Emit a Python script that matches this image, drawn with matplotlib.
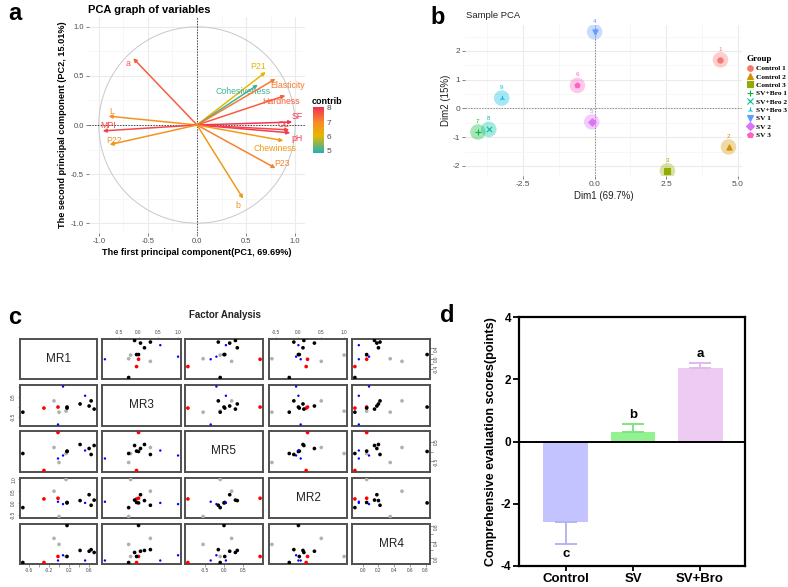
import matplotlib
matplotlib.use('Agg')
import matplotlib.pyplot as plt
import numpy as np
from matplotlib.colors import LinearSegmentedColormap, Normalize
from matplotlib.lines import Line2D

plt.rcParams['font.family'] = ['Liberation Sans', 'DejaVu Sans']
plt.rcParams['axes.unicode_minus'] = False

W, H = 788, 587
fig = plt.figure(figsize=(W / 100, H / 100), dpi=100)


def box(x0, y0, x1, y1):
    return [x0 / W, 1 - y1 / H, (x1 - x0) / W, (y1 - y0) / H]


# ---------------- data: panel a (variables PCA) ----------------
var_names = ['a', 'L', 'MPI', 'P22', 'P21', 'Cohesiveness', 'Elasticity', 'Hardness',
             'SF', 'OL', 'pH', 'Chewiness', 'P23', 'b']
pc1 = [-0.65, -0.90, -0.96, -0.89, 0.70, 0.62, 0.80, 0.90, 0.97, 0.94, 0.95, 0.88, 0.80, 0.47]
pc2 = [0.68, 0.09, -0.06, -0.20, 0.54, 0.41, 0.47, 0.30, 0.03, -0.05, -0.08, -0.16, -0.44, -0.75]
contrib = [7.5, 6.8, 7.8, 6.8, 6.0, 5.0, 7.2, 7.5, 8.0, 7.8, 7.9, 6.6, 7.1, 6.7]
axis_ticks_a = [-1.0, -0.5, 0.0, 0.5, 1.0]
contrib_ticks = [5, 6, 7, 8]

# ---------------- data: panel b (sample PCA) ----------------
groups = ['Control 1', 'Control 2', 'Control 3', 'SV+Bro 1', 'SV+Bro 2', 'SV+Bro 3',
          'SV 1', 'SV 2', 'SV 3']
point_ids = ['1', '2', '3', '7', '8', '9', '4', '5', '6']
dim1 = [4.39, 4.67, 2.54, -4.07, -3.69, -3.24, 0.00, -0.10, -0.60]
dim2 = [1.69, -1.34, -2.17, -0.82, -0.73, 0.36, 2.66, -0.47, 0.80]
group_colors = ['#F8766D', '#D39200', '#93AA00', '#00BA38', '#00C19F', '#00B9E3',
                '#619CFF', '#DB72FB', '#FF61C3']
group_markers = ['o', '^', 's', '+', 'x', '2', 'v', 'D', 'p']
xticks_b = [-2.5, 0.0, 2.5, 5.0]
yticks_b = [-2, -1, 0, 1, 2]

# ---------------- data: panel c (factor loadings) ----------------
factor_names = ['MR1', 'MR3', 'MR5', 'MR2', 'MR4']
mr1 = [-0.30, -0.02, -0.10, 0.00, 0.14, 0.16, 0.16, 0.08, -0.02, 0.52, 0.42, 0.64, 0.60, 0.70, -0.72]
mr3 = [-0.05, 0.00, 0.30, -0.25, -0.20, 0.00, -0.05, 1.00, -0.85, 0.55, 0.15, 0.30, 0.05, -0.10, -0.25]
mr5 = [-0.95, 0.95, 0.20, -0.55, -0.10, 0.00, 0.02, -0.20, -0.35, 0.05, 0.35, -0.15, 0.15, 0.30, -0.10]
mr2 = [0.17, 0.20, 0.50, -0.58, 1.00, 0.00, 0.02, -0.05, 0.05, 0.00, 0.10, -0.10, 0.35, 0.12, -0.20]
mr4 = [-0.10, 0.05, 0.50, 0.35, 0.05, 0.82, 0.05, 0.08, -0.05, -0.05, 0.20, 0.22, 0.18, 0.15, -0.10]
load_colors = ['red', 'red', '#B0B0B0', '#B0B0B0', '#B0B0B0', 'black', 'black', 'blue', 'blue',
               'blue', 'black', 'black', 'black', 'black', 'black']
fa_ticks = [
    ([-0.6, -0.4, -0.2, 0.0, 0.2, 0.4, 0.6], ['-0.6', '', '-0.2', '', '0.2', '', '0.6']),
    ([-0.5, 0.0, 0.5, 1.0], ['-0.5', '0.0', '0.5', '1.0']),
    ([-0.5, 0.0, 0.5], ['-0.5', '0.0', '0.5']),
    ([-0.5, 0.0, 0.5, 1.0], ['-0.5', '0.0', '0.5', '1.0']),
    ([0.0, 0.2, 0.4, 0.6, 0.8], ['0.0', '0.2', '0.4', '0.6', '0.8']),
]
fa_row_ticks = [
    ([-0.4, -0.2, 0.0, 0.2, 0.4], ['-0.4', '', '0.0', '', '0.4']),
    ([-0.5, 0.0, 0.5, 1.0], ['-0.5', '', '0.5', '']),
    ([-0.5, 0.0, 0.5], ['-0.5', '', '0.5']),
    ([-0.5, 0.0, 0.5, 1.0], ['-0.5', '0.0', '0.5', '1.0']),
    ([0.0, 0.2, 0.4, 0.6, 0.8], ['0.0', '', '0.4', '', '0.8']),
]

# ---------------- data: panel d (scores) ----------------
treatments = ['Control', 'SV', 'SV+Bro']
scores = [-2.60, 0.29, 2.35]
score_err = [0.70, 0.26, 0.16]
sig_letters = ['c', 'b', 'a']
bar_colors = ['#C3C3FF', '#92F292', '#EDCBF3']
err_colors = ['#B4B4F4', '#7FE47F', '#E3B8EC']

# ======================= panel a =======================
grid_major = '#EBEBEB'
grid_minor = '#F4F4F4'
tick_gray = '#4D4D4D'

axa = fig.add_axes(box(89, 17, 305, 233))
axa.set_xlim(-1.1, 1.1)
axa.set_ylim(-1.1, 1.1)
for s in axa.spines.values():
    s.set_visible(False)
axa.set_xticks(axis_ticks_a)
axa.set_yticks(axis_ticks_a)
axa.set_xticks([-0.75, -0.25, 0.25, 0.75], minor=True)
axa.set_yticks([-0.75, -0.25, 0.25, 0.75], minor=True)
axa.grid(True, which='major', color=grid_major, lw=0.8)
axa.grid(True, which='minor', color=grid_minor, lw=0.5)
axa.set_axisbelow(True)
axa.tick_params(which='major', length=2, width=0.5, color=tick_gray, labelsize=5.5,
                labelcolor=tick_gray, pad=1.5)
axa.tick_params(which='minor', length=0)
axa.set_xticklabels([f'{t:.1f}' for t in axis_ticks_a])
axa.set_yticklabels([f'{t:.1f}' for t in axis_ticks_a])
th = np.linspace(0, 2 * np.pi, 400)
axa.plot(np.cos(th), np.sin(th), color='#C8C8C8', lw=0.7)
axa.axhline(0, color='black', lw=0.5, ls=(0, (2, 2)))
axa.axvline(0, color='black', lw=0.5, ls=(0, (2, 2)))

cmap = LinearSegmentedColormap.from_list(
    'contrib', [(0.0, '#1FB2B8'), (0.37, '#E7B800'), (0.68, '#F7892A'), (1.0, '#F52D55')])
norm = Normalize(4.8, 8.07)
label_offsets = {
    'a': (-3.6, -3.6), 'L': (2.5, 3.2), 'MPI': (3.6, 3.6), 'P22': (3, 3), 'P21': (-5.5, 4),
    'Cohesiveness': (-11, -5), 'Elasticity': (9, -5), 'Hardness': (-3, -4.3), 'SF': (3.6, 4.3),
    'OL': (-4.3, 3.6), 'pH': (5, -4.3), 'Chewiness': (-5.8, -5.8), 'P23': (5, 3.6), 'b': (-3.6, -5)}
for name, x, y, c in zip(var_names, pc1, pc2, contrib):
    col = cmap(norm(c))
    axa.annotate('', xy=(x, y), xytext=(0, 0),
                 arrowprops=dict(arrowstyle='-|>', color=col, lw=1.1, mutation_scale=5,
                                 shrinkA=0, shrinkB=0))
    axa.annotate(name, xy=(x, y), xytext=label_offsets[name], textcoords='offset points',
                 ha='center', va='center', fontsize=6.3, color=col)
axa.set_xlabel('The first principal component(PC1, 69.69%)', fontsize=6.6,
               fontweight='bold', labelpad=2)
axa.set_ylabel('The second principal component (PC2, 15.01%)', fontsize=6.6,
               fontweight='bold', labelpad=3)
fig.text(88 / W, 1 - 10 / H, 'PCA graph of variables', fontsize=8, fontweight='bold',
         ha='left', va='center')

# colorbar
axcb = fig.add_axes(box(313, 107, 324, 153))
grad = np.linspace(4.8, 8.07, 200).reshape(-1, 1)
axcb.imshow(grad, aspect='auto', cmap=cmap, norm=norm, origin='lower',
            extent=[0, 1, 4.8, 8.07])
axcb.set_xticks([])
axcb.yaxis.tick_right()
axcb.set_yticks(contrib_ticks)
axcb.tick_params(axis='y', length=0, labelsize=6, labelcolor=tick_gray, pad=2)
for s in axcb.spines.values():
    s.set_visible(False)
fig.text(312 / W, 1 - 101 / H, 'contrib', fontsize=6.5, fontweight='bold',
         ha='left', va='center')

fig.text(8 / W, 1 - 13 / H, 'a', fontsize=17, fontweight='bold', ha='left', va='center')

# ======================= panel b =======================
axb = fig.add_axes(box(465, 25, 742, 176))
axb.set_xlim(-4.52, 5.14)
axb.set_ylim(-2.35, 2.9)
for s in axb.spines.values():
    s.set_visible(False)
axb.set_xticks(xticks_b)
axb.set_yticks(yticks_b)
axb.set_xticks([-3.75, -1.25, 1.25, 3.75], minor=True)
axb.set_yticks([-1.5, -0.5, 0.5, 1.5, 2.5], minor=True)
axb.grid(True, which='major', color=grid_major, lw=0.8)
axb.grid(True, which='minor', color=grid_minor, lw=0.5)
axb.set_axisbelow(True)
axb.tick_params(which='major', length=2, width=0.5, color=tick_gray, labelsize=6,
                labelcolor=tick_gray, pad=1.5)
axb.tick_params(which='minor', length=0)
axb.set_xticklabels([f'{t:.1f}' for t in xticks_b])
axb.axhline(0, color='#666666', lw=0.5, ls=(0, (2, 2)))
axb.axvline(0, color='#666666', lw=0.5, ls=(0, (2, 2)))
for x, y, c, m, pid in zip(dim1, dim2, group_colors, group_markers, point_ids):
    axb.scatter([x], [y], s=125, color=c, alpha=0.35, edgecolors='none', zorder=3)
    axb.scatter([x], [y], s=14, color=c, marker=m, zorder=4, linewidths=0.8)
    axb.annotate(pid, xy=(x, y), xytext=(0, 7.5), textcoords='offset points',
                 ha='center', va='center', fontsize=4.5, color=c, zorder=5)
axb.set_xlabel('Dim1 (69.7%)', fontsize=7, color='#222222', labelpad=2)
axb.set_ylabel('Dim2 (15%)', fontsize=7, color='#222222', labelpad=1)
fig.text(466 / W, 1 - 16 / H, 'Sample PCA', fontsize=6.8, color='#222222',
         ha='left', va='center')
handles = [Line2D([0], [0], marker=m, color=c, markerfacecolor=c, markersize=4, ls='none',
                  markeredgewidth=0.8) for c, m in zip(group_colors, group_markers)]
leg = fig.legend(handles, groups, loc='upper left', bbox_to_anchor=(744 / W, 1 - 52 / H),
                 frameon=False, title='Group', handlelength=0.8, handletextpad=0.4,
                 labelspacing=0.3, borderaxespad=0,
                 prop={'family': 'Liberation Serif', 'weight': 'bold', 'size': 5.3},
                 title_fontproperties={'family': 'Liberation Serif', 'weight': 'bold',
                                       'size': 6.5})
leg._legend_box.align = 'left'
fig.text(430 / W, 1 - 17 / H, 'b', fontsize=17, fontweight='bold', ha='left', va='center')

# ======================= panel c =======================
loadings = [mr1, mr3, mr5, mr2, mr4]
col_x = [(20, 97), (102, 181), (185, 263), (269, 347), (352, 430)]
row_y = [(339, 379), (385, 426), (431, 472), (478, 518), (524, 564)]
lims = []
for v in loadings:
    lo, hi = min(v), max(v)
    ext = 0.04 * (hi - lo)
    lims.append((lo - ext, hi + ext))
nf = len(loadings)
for i in range(nf):
    for j in range(nf):
        x0, x1 = col_x[j]
        y0, y1 = row_y[i]
        ax = fig.add_axes(box(x0, y0, x1, y1))
        ax.set_xlim(lims[j])
        ax.set_ylim(lims[i])
        for s in ax.spines.values():
            s.set_linewidth(1.4)
            s.set_color('#505050')
        ax.set_xticks([])
        ax.set_yticks([])
        if i == j:
            ax.text(0.5, 0.5, factor_names[i], transform=ax.transAxes, ha='center',
                    va='center', fontsize=8.5, color='#222222')
        else:
            xs = np.array(loadings[j])
            ys = np.array(loadings[i])
            for xv, yv, c in zip(xs, ys, load_colors):
                sz = 3 if c == 'blue' else 7
                ax.scatter([xv], [yv], s=sz, color=c, edgecolors='none', zorder=3)
        tk_kw = dict(length=1.8, width=0.4, color='#555555', labelsize=3.4,
                     labelcolor='#444444', pad=1)
        if i == nf - 1 and j % 2 == 0:
            ax.set_xticks(fa_ticks[j][0])
            ax.set_xticklabels(fa_ticks[j][1])
            ax.tick_params(axis='x', **tk_kw)
        if i == 0 and j % 2 == 1:
            ax.xaxis.tick_top()
            ax.set_xticks(fa_ticks[j][0])
            ax.set_xticklabels(fa_ticks[j][1])
            ax.tick_params(axis='x', **tk_kw)
        if j == 0 and i % 2 == 1:
            ax.set_yticks(fa_row_ticks[i][0])
            ax.set_yticklabels(fa_row_ticks[i][1], rotation=90, va='center')
            ax.tick_params(axis='y', **tk_kw)
        if j == nf - 1 and i % 2 == 0:
            ax.yaxis.tick_right()
            ax.set_yticks(fa_row_ticks[i][0])
            ax.set_yticklabels(fa_row_ticks[i][1], rotation=90, va='center')
            ax.tick_params(axis='y', **tk_kw)
fig.text(225 / W, 1 - 315 / H, 'Factor Analysis', fontsize=7, fontweight='bold',
         ha='center', va='center', color='#222222')
fig.text(8 / W, 1 - 318 / H, 'c', fontsize=17, fontweight='bold', ha='left', va='center')

# ======================= panel d =======================
axd = fig.add_axes(box(519, 317, 745, 566))
xpos = np.arange(len(treatments))
axd.bar(xpos, scores, width=0.67, color=bar_colors, zorder=2)
for k, (x, v, e, ec) in enumerate(zip(xpos, scores, score_err, err_colors)):
    lower = [e] if v < 0 else [0]
    upper = [e] if v >= 0 else [0]
    axd.errorbar([x], [v], yerr=[lower, upper], fmt='none', ecolor=ec, elinewidth=1.4,
                 capsize=8, capthick=1.4, zorder=3)
    tip = v - e if v < 0 else v + e
    off = -7 if v < 0 else 7
    axd.annotate(sig_letters[k], xy=(x, tip), xytext=(0, off), textcoords='offset points',
                 ha='center', va='center', fontsize=9.5, fontweight='bold')
axd.axhline(0, color='black', lw=1.4, zorder=4)
axd.set_xlim(-0.7, 2.67)
axd.set_ylim(-4, 4)
axd.set_yticks([-4, -2, 0, 2, 4])
axd.set_xticks(xpos)
axd.set_xticklabels(treatments, fontsize=9.5, fontweight='bold')
axd.tick_params(axis='y', labelsize=8.5, width=1.3, length=4, pad=1.5)
axd.tick_params(axis='x', width=1.3, length=3.5, pad=1.5)
for lab in axd.get_yticklabels():
    lab.set_fontweight('bold')
for s in axd.spines.values():
    s.set_linewidth(1.6)
axd.set_ylabel('Comprehensive evaluation scores(points)', fontsize=9, fontweight='bold',
               labelpad=3)
fig.text(440 / W, 1 - 315 / H, 'd', fontsize=17, fontweight='bold', ha='left', va='center')

fig.savefig('out.png', dpi=100)
